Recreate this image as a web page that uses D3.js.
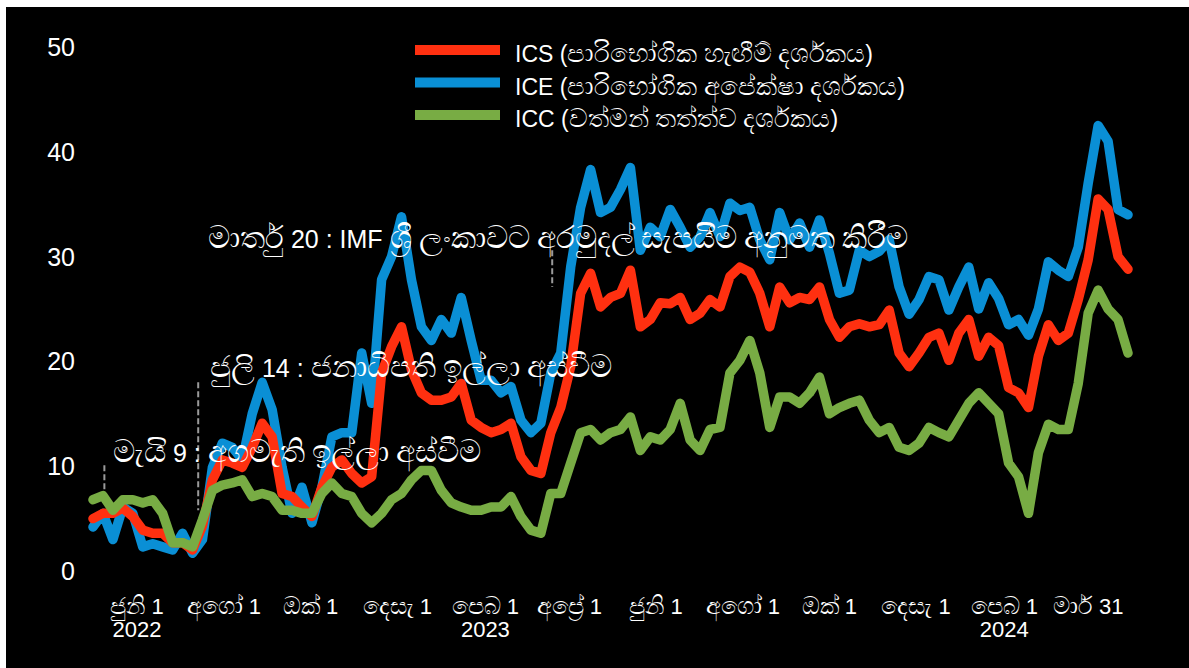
<!DOCTYPE html>
<html>
<head>
<meta charset="utf-8">
<script src="https://cdnjs.cloudflare.com/ajax/libs/d3/7.8.5/d3.min.js"></script>
<style>
  body { margin: 0; background: #fff; }
  svg text { font-family: "Liberation Sans", Arial, "Noto Sans", sans-serif; fill: #fff; }
</style>
</head>
<body>
<div id="chart"></div>
<script>
const dates = [
  "2022-05-01","2022-05-08","2022-05-15","2022-05-22","2022-05-29",
  "2022-06-05","2022-06-12","2022-06-19","2022-06-26",
  "2022-07-03","2022-07-10","2022-07-17","2022-07-24","2022-07-31",
  "2022-08-07","2022-08-14","2022-08-21","2022-08-28",
  "2022-09-04","2022-09-11","2022-09-18","2022-09-25",
  "2022-10-02","2022-10-09","2022-10-16","2022-10-23","2022-10-30",
  "2022-11-06","2022-11-13","2022-11-20","2022-11-27",
  "2022-12-04","2022-12-11","2022-12-18","2022-12-25",
  "2023-01-01","2023-01-08","2023-01-15","2023-01-22","2023-01-29",
  "2023-02-05","2023-02-12","2023-02-19","2023-02-26",
  "2023-03-05","2023-03-12","2023-03-19","2023-03-26",
  "2023-04-02","2023-04-09","2023-04-16","2023-04-23","2023-04-30",
  "2023-05-07","2023-05-14","2023-05-21","2023-05-28",
  "2023-06-04","2023-06-11","2023-06-18","2023-06-25",
  "2023-07-02","2023-07-09","2023-07-16","2023-07-23","2023-07-30",
  "2023-08-06","2023-08-13","2023-08-20","2023-08-27",
  "2023-09-03","2023-09-10","2023-09-17","2023-09-24",
  "2023-10-01","2023-10-08","2023-10-15","2023-10-22","2023-10-29",
  "2023-11-05","2023-11-12","2023-11-19","2023-11-26",
  "2023-12-03","2023-12-10","2023-12-17","2023-12-24","2023-12-31",
  "2024-01-07","2024-01-14","2024-01-21","2024-01-28",
  "2024-02-04","2024-02-11","2024-02-18","2024-02-25",
  "2024-03-03","2024-03-10","2024-03-17","2024-03-24","2024-03-31",
  "2024-04-07","2024-04-14","2024-04-21","2024-04-28"
];

const ics = [
  5.0, 5.5, 5.5, 6.0, 5.2, 3.9, 3.6, 3.6, 2.7, 2.7,
  2.0, 4.3, 8.7, 10.6, 10.3, 9.9, 11.8, 14.1, 12.8, 7.4,
  7.1, 6.1, 5.2, 8.0, 9.9, 10.6, 9.3, 8.4, 9.0, 18.9,
  21.4, 23.3, 19.2, 17.0, 16.3, 16.3, 16.6, 17.9, 14.4, 13.7,
  13.2, 13.5, 14.1, 10.9, 9.6, 9.3, 13.2, 15.6, 19.5, 26.5,
  28.4, 25.2, 26.1, 26.5, 28.7, 23.3, 24.0, 25.6, 25.5, 26.1,
  24.0, 24.6, 25.9, 25.2, 28.1, 29.0, 28.5, 26.5, 23.3, 27.1,
  25.6, 26.1, 25.9, 27.1, 24.0, 22.3, 23.3, 23.6, 23.3, 23.5,
  24.9, 20.8, 19.5, 20.8, 22.3, 22.7, 20.1, 22.7, 24.0, 20.5,
  22.3, 21.5, 17.5, 17.0, 15.6, 20.5, 23.5, 22.0, 22.7, 25.9,
  29.7, 35.5, 34.5, 30.0, 28.8
];

const ice = [
  4.2, 5.5, 3.0, 6.1, 5.5, 2.3, 2.6, 2.3, 2.0, 3.6,
  1.7, 3.0, 9.9, 12.2, 11.8, 10.6, 15.0, 18.0, 15.4, 9.9,
  5.5, 8.0, 4.6, 8.0, 12.8, 13.2, 13.2, 20.8, 16.0, 27.8,
  30.0, 33.8, 27.8, 23.3, 22.0, 24.0, 22.7, 26.1, 22.0, 18.2,
  18.2, 17.0, 17.6, 14.4, 13.2, 14.1, 18.9, 20.8, 29.0, 34.7,
  38.3, 34.2, 34.7, 36.4, 38.5, 30.6, 32.8, 31.9, 34.5, 32.8,
  30.9, 31.9, 34.2, 31.9, 35.1, 34.4, 34.7, 31.6, 29.7, 34.2,
  31.6, 33.2, 30.9, 33.5, 30.3, 26.5, 26.8, 30.6, 30.0, 30.5,
  31.6, 27.1, 24.5, 25.9, 28.1, 27.8, 24.9, 27.1, 29.0, 25.0,
  27.5, 26.0, 23.5, 24.0, 22.5, 25.0, 29.5, 28.7, 28.1, 30.9,
  37.0, 42.5, 41.0, 34.5, 34.0
];

const icc = [
  6.8, 7.2, 5.8, 6.8, 6.8, 6.5, 6.8, 5.5, 2.7, 2.7,
  2.3, 4.9, 7.7, 8.2, 8.4, 8.7, 7.1, 7.4, 7.1, 5.8,
  5.8, 5.5, 5.5, 7.4, 8.4, 7.4, 7.1, 5.5, 4.6, 5.5,
  6.8, 7.4, 8.7, 9.6, 9.6, 7.7, 6.5, 6.1, 5.8, 5.8,
  6.1, 6.1, 7.1, 5.2, 3.9, 3.6, 7.4, 7.4, 10.3, 13.2,
  13.5, 12.5, 13.2, 13.5, 14.7, 11.5, 12.8, 12.5, 13.5, 16.0,
  12.5, 11.5, 13.5, 13.7, 18.9, 20.1, 22.0, 18.9, 13.7, 16.6,
  16.6, 16.0, 17.0, 18.5, 15.0, 15.6, 16.0, 16.3, 14.4, 13.2,
  13.7, 11.8, 11.5, 12.2, 13.7, 13.2, 12.8, 14.4, 16.0, 17.0,
  16.0, 15.0, 10.3, 9.0, 5.5, 11.3, 14.0, 13.5, 13.5, 17.9,
  24.6, 26.8, 25.0, 24.0, 20.8
];

const seriesNames = [
  "ICS (පාරිභෝගික හැඟීම් දර්ශකය)",
  "ICE (පාරිභෝගික අපේක්ෂා දර්ශකය)",
  "ICC (වත්මන් තත්ත්ව දර්ශකය)"
];

const yTicks = [0, 10, 20, 30, 40, 50];

const xTickDates = ["2022-06-01","2022-08-01","2022-10-01","2022-12-01","2023-02-01","2023-04-01",
                    "2023-06-01","2023-08-01","2023-10-01","2023-12-01","2024-02-01","2024-03-31"];
const xTickLabels = ["ජුනි 1","අගෝ 1","ඔක් 1","දෙසැ 1","පෙබ 1","අප්‍රේ 1",
                     "ජුනි 1","අගෝ 1","ඔක් 1","දෙසැ 1","පෙබ 1","මාර් 31"];
const yearDates = ["2022-06-01","2023-02-01","2024-02-01"];
const yearLabels = ["2022","2023","2024"];

const eventDates = ["2022-05-09","2022-07-14","2023-03-20"];
const eventTexts = [
  "මැයි 9 : අගමැති ඉල්ලා අස්වීම",
  "ජුලි 14 : ජනාධිපති ඉල්ලා අස්වීම",
  "මාර්තු 20 : IMF ශ්‍රී ලංකාවට අරමුදල් සැපයීම අනුමත කිරීම"
];

// ---- drawing ----
const W = 1189, H = 668;
const parse = d3.timeParse("%Y-%m-%d");
const dts = dates.map(parse);

// The Sinhala fallback face runs small next to Liberation Sans,
// so Sinhala runs get their own (larger) size inside the same text
function mixedText(sel, str, size, sinScale) {
  const runs = str.match(/[\u0D80-\u0DFF\u200D]+|[^\u0D80-\u0DFF\u200D]+/g);
  runs.forEach(r => {
    const isSin = /[\u0D80-\u0DFF]/.test(r);
    sel.append("tspan")
      .style("font-size", (isSin ? size * sinScale : size) + "px")
      .text(r);
  });
}

const svg = d3.select("#chart").append("svg")
  .attr("width", W)
  .attr("height", H);

// black panel (thin white edge on top/left as in the original)
svg.append("rect")
  .attr("x", 6).attr("y", 7)
  .attr("width", W - 6).attr("height", H - 7)
  .attr("fill", "#000");

const x = d3.scaleTime().domain(d3.extent(dts)).range([93, 1128]);
const y = d3.scaleLinear().domain([0, 50]).range([571, 47]);

// y tick labels
svg.append("g").selectAll("text")
  .data(yTicks)
  .join("text")
  .attr("x", 75)
  .attr("y", d => y(d))
  .attr("dy", "0.36em")
  .attr("text-anchor", "end")
  .style("font-size", "25px")
  .text(d => d);

// x tick labels + years
svg.append("g").selectAll("text")
  .data(xTickDates)
  .join("text")
  .attr("x", d => x(parse(d)))
  .attr("y", 614)
  .attr("text-anchor", "middle")
  .each(function(d, i) { mixedText(d3.select(this), xTickLabels[i], 22, 1.08); });

svg.append("g").selectAll("text")
  .data(yearDates)
  .join("text")
  .attr("x", d => x(parse(d)))
  .attr("y", 637)
  .attr("text-anchor", "middle")
  .style("font-size", "22px")
  .text((d, i) => yearLabels[i]);

// event markers: dashed drop lines, text placed by hand
const eventLayout = [
  {y1: 10.1, y2: 6.6, tx: 113, ty: 462},
  {y1: 18.0, y2: 5.8, tx: 210, ty: 377},
  {y1: 30.6, y2: 27.1, tx: 208, ty: 248}
];
eventDates.forEach((d, i) => {
  const ex = x(parse(d));
  svg.append("line")
    .attr("x1", ex).attr("x2", ex)
    .attr("y1", y(eventLayout[i].y1)).attr("y2", y(eventLayout[i].y2))
    .attr("stroke", "#9a9a9a")
    .attr("stroke-width", 2)
    .attr("stroke-dasharray", "6,3");
});

// series lines (blue first, then red, green on top)
const colors = {ics: "#ff3010", ice: "#0a8fd5", icc: "#78ac44"};
const line = d3.line()
  .x((d, i) => x(dts[i]))
  .y(d => y(d));

[[ice, colors.ice], [ics, colors.ics], [icc, colors.icc]].forEach(([vals, c]) => {
  svg.append("path")
    .attr("d", line(vals))
    .attr("fill", "none")
    .attr("stroke", c)
    .attr("stroke-width", 9.5)
    .attr("stroke-linejoin", "round")
    .attr("stroke-linecap", "round");
});

// annotation texts (drawn above the lines)
eventTexts.forEach((t, i) => {
  const txt = svg.append("text")
    .attr("x", eventLayout[i].tx)
    .attr("y", eventLayout[i].ty);
  mixedText(txt, t, 25, 1.25);
});

// legend
const legendColors = [colors.ics, colors.ice, colors.icc];
const legend = svg.append("g").attr("transform", "translate(415,50)");
seriesNames.forEach((name, i) => {
  const row = legend.append("g").attr("transform", "translate(0," + (i * 32.5) + ")");
  row.append("line")
    .attr("x1", 0).attr("x2", 85)
    .attr("y1", 0).attr("y2", 0)
    .attr("stroke", legendColors[i])
    .attr("stroke-width", 10);
  const txt = row.append("text")
    .attr("x", 100)
    .attr("y", 12);
  mixedText(txt, name, 23, 1.12);
});
</script>
</body>
</html>
